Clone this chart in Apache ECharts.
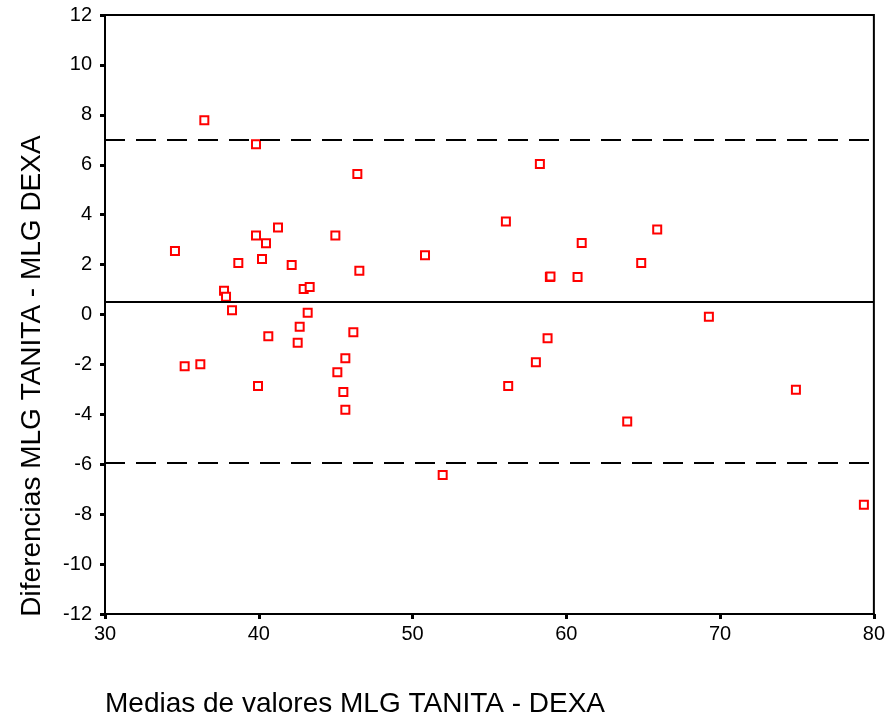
<!DOCTYPE html>
<html>
<head>
<meta charset="utf-8">
<script src="https://cdn.jsdelivr.net/npm/echarts@6/dist/echarts.min.js"></script>
<style>
  html, body { margin: 0; padding: 0; background: #fff; }
  #chart { width: 888px; height: 720px; }
</style>
</head>
<body>
<div id="chart"></div>
<script>
// Bland-Altman: mean of TANITA and DEXA fat mass vs. their difference
const meanValues = [
  36.46, 39.82, 46.41, 41.25, 39.82, 40.47, 44.98, 34.55, 38.67, 40.21,
  42.14, 46.54, 37.74, 37.87, 42.92, 43.31, 38.26, 43.18, 42.66, 40.62,
  42.53, 46.15, 45.63, 45.11, 35.18, 36.20, 39.95, 45.50, 45.63, 58.28,
  56.07, 50.81, 65.91, 61.00, 64.87, 58.93, 58.97, 60.73, 58.78, 58.02,
  56.22, 63.96, 51.96, 69.27, 74.93, 79.35
];
const diffValues = [
  7.78, 6.82, 5.63, 3.49, 3.17, 2.85, 3.17, 2.54, 2.06, 2.22,
  1.98, 1.75, 0.95, 0.71, 1.02, 1.10, 0.17, 0.07, -0.49, -0.87,
  -1.13, -0.71, -1.75, -2.31, -2.07, -1.99, -2.86, -3.11, -3.82, 6.03,
  3.73, 2.37, 3.41, 2.86, 2.06, 1.50, 1.52, 1.50, -0.95, -1.91,
  -2.86, -4.29, -6.43, -0.09, -3.02, -7.62
];

// Mean difference and limits of agreement
const meanDiff = 0.53;
const upperLimit = 7.0;
const lowerLimit = -5.95;

const xTicks = [30, 40, 50, 60, 70, 80];
const yTicks = [-12, -10, -8, -6, -4, -2, 0, 2, 4, 6, 8, 10, 12];

const xTitle = 'Medias de valores MLG TANITA - DEXA';
const yTitle = 'Diferencias MLG TANITA - MLG DEXA';

const points = meanValues.map((x, i) => [x, diffValues[i]]);

const FONT = 'Liberation Sans, Arial, sans-serif';
const chart = echarts.init(document.getElementById('chart'), null, { renderer: 'canvas' });

const axisCommon = {
  axisLine: { show: true, onZero: false, lineStyle: { color: '#000', width: 2 } },
  axisTick: { show: true, inside: false, length: 5, lineStyle: { color: '#000', width: 3 } },
  splitLine: { show: false },
  axisLabel: { color: '#000', fontFamily: FONT, fontSize: 20 }
};

chart.setOption({
  animation: false,
  backgroundColor: '#fff',
  grid: {
    left: 105, right: 14, top: 15, bottom: 106,
    show: true, borderColor: '#000', borderWidth: 2, backgroundColor: 'transparent'
  },
  xAxis: Object.assign({}, axisCommon, {
    type: 'value',
    min: xTicks[0], max: xTicks[xTicks.length - 1], interval: 10,
    axisLabel: Object.assign({}, axisCommon.axisLabel, { margin: 10 })
  }),
  yAxis: Object.assign({}, axisCommon, {
    type: 'value',
    min: yTicks[0], max: yTicks[yTicks.length - 1], interval: 2,
    axisLabel: Object.assign({}, axisCommon.axisLabel, { margin: 13 })
  }),
  graphic: [
    {
      type: 'text', x: 105, y: 704,
      style: { text: xTitle, fill: '#000', font: '28px ' + FONT, align: 'left', verticalAlign: 'middle' }
    },
    {
      type: 'text', x: 32, y: 376, rotation: Math.PI / 2,
      style: { text: yTitle, fill: '#000', font: '28px ' + FONT, align: 'center', verticalAlign: 'middle' }
    }
  ],
  series: [
    {
      type: 'scatter',
      data: points,
      symbol: 'rect',
      symbolSize: 8,
      itemStyle: { color: '#fff', borderColor: '#ff0000', borderWidth: 2, opacity: 1 },
      markLine: {
        silent: true,
        symbol: ['none', 'none'],
        label: { show: false },
        animation: false,
        data: [
          { yAxis: meanDiff, lineStyle: { type: 'solid', color: '#000', width: 2 } },
          { yAxis: upperLimit, lineStyle: { type: [20, 11], color: '#000', width: 2 } },
          { yAxis: lowerLimit, lineStyle: { type: [20, 11], color: '#000', width: 2 } }
        ]
      },
      z: 3
    }
  ]
});
</script>
</body>
</html>
